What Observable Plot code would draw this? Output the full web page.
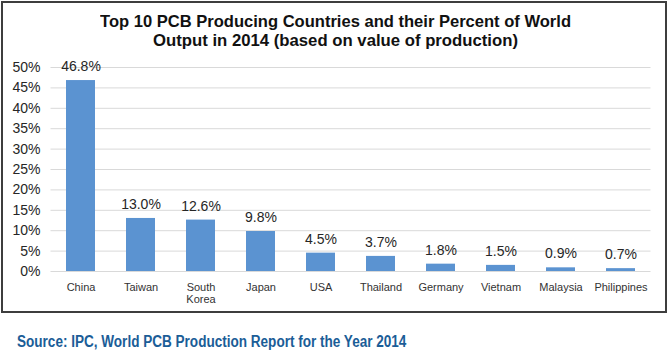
<!DOCTYPE html>
<html>
<head>
<meta charset="utf-8">
<script src="https://cdn.jsdelivr.net/npm/d3@7"></script>
<script src="https://cdn.jsdelivr.net/npm/@observablehq/plot@0.6"></script>
<style>
  html, body { margin: 0; padding: 0; background: #fff; }
  body { width: 669px; height: 355px; position: relative; overflow: hidden; font-family: "Liberation Sans", Arial, sans-serif; }
  #frame { position: absolute; left: 1px; top: 1px; width: 662px; height: 308px; border: 2px solid #3e3e3e; }
  .tline { position: absolute; white-space: nowrap; font-weight: bold; font-size: 17px; color: #111; line-height: 20px; transform-origin: 0 50%; }
  #source { position: absolute; white-space: nowrap; font-family: "Liberation Sans Narrow", "Liberation Sans", Arial, sans-serif; font-weight: bold; font-size: 16px; color: #1b5d97; line-height: 20px; transform-origin: 0 50%; }
  #chart { position: absolute; left: 0; top: 50px; }
</style>
</head>
<body>
<div id="frame"></div>
<div class="tline" id="t1">Top 10 PCB Producing Countries and their Percent of World</div>
<div class="tline" id="t2">Output in 2014 (based on value of production)</div>
<div id="chart"></div>
<div id="source">Source: IPC, World PCB Production Report for the Year 2014</div>
<script>
const countries = ["China", "Taiwan", "South Korea", "Japan", "USA", "Thailand", "Germany", "Vietnam", "Malaysia", "Philippines"];
const axisLabels = ["China", "Taiwan", "South\nKorea", "Japan", "USA", "Thailand", "Germany", "Vietnam", "Malaysia", "Philippines"];
const shares = [46.8, 13.0, 12.6, 9.8, 4.5, 3.7, 1.8, 1.5, 0.9, 0.7];
const yTicks = [0, 5, 10, 15, 20, 25, 30, 35, 40, 45, 50];

const data = countries.map((c, i) => ({country: c, label: axisLabels[i], share: shares[i]}));

const chart = Plot.plot({
  width: 669,
  height: 262,
  marginLeft: 50.5,
  marginRight: 18.5,
  marginTop: 17,
  marginBottom: 41,
  style: {fontFamily: '"Liberation Sans", Arial, sans-serif', background: "transparent", overflow: "visible"},
  x: {domain: countries, paddingInner: 0.52, paddingOuter: 0.26, axis: null},
  y: {domain: [0, 50], axis: null},
  marks: [
    Plot.ruleY(yTicks, {stroke: "#d9d9d9", strokeWidth: 1}),
    Plot.barY(data, {x: "country", y: "share", fill: "#5b93d1"}),
    Plot.text(yTicks, {y: d => d, text: d => d + "%", frameAnchor: "left", textAnchor: "end", dx: -10.5, fontSize: 14, fill: "#262626"}),
    Plot.text(data, {x: "country", y: "share", text: d => d.share.toFixed(1) + "%", dy: -14, fontSize: 14, fill: "#262626"}),
    Plot.text(data, {x: "country", y: () => 0, text: "label", lineAnchor: "top", dy: 10.8, fontSize: 11, lineHeight: 12 / 11, fill: "#333"})
  ]
});
document.getElementById("chart").appendChild(chart);

function fit(id, left, right, cy) {
  const el = document.getElementById(id);
  const w = el.getBoundingClientRect().width;
  el.style.left = left + "px";
  el.style.top = (cy - 10) + "px";
  el.style.transform = "scaleX(" + ((right - left) / w) + ")";
}
fit("t1", 100, 571, 21.7);
fit("t2", 153, 518, 40.7);
fit("source", 17.3, 406.7, 341.7);
</script>
</body>
</html>
